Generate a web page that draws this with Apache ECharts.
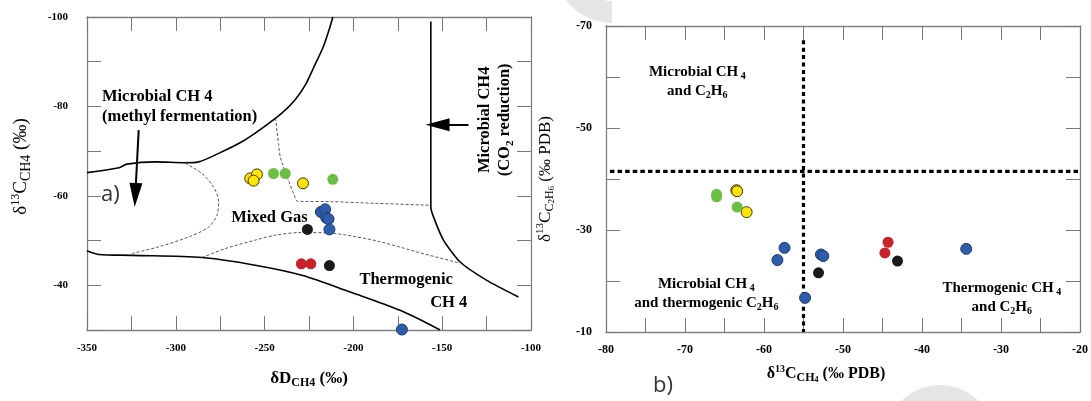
<!DOCTYPE html>
<html>
<head>
<meta charset="utf-8">
<script src="https://cdn.jsdelivr.net/npm/echarts@6/dist/echarts.min.js"></script>
<style>html,body{margin:0;padding:0;background:#fff}#c{width:1091px;height:401px}</style>
</head>
<body>
<div id="c"></div>
<script>
// ---------- Panel a) : δD_CH4 vs δ13C_CH4 ----------
const yellowA = [[-258.1,-63.9],[-254.3,-64.8],[-256.2,-63.4],[-228.4,-62.8]];
const greenA  = [[-245.0,-65.0],[-238.4,-65.0],[-211.6,-63.7]];
const redA    = [[-229.3,-44.8],[-224.0,-44.8]];
const blackA  = [[-225.9,-52.5],[-213.5,-44.4]];
const blueA   = [[-218.3,-56.4],[-215.9,-57.0],[-215.3,-55.1],[-214.0,-54.8],[-213.5,-52.5],[-172.7,-30.1]];

// boundary lines of the genetic diagram
const methylBoundary = [[-350,-65.2],[-332,-66.3],[-327.5,-67.1],[-311.6,-67.6],[-294.7,-67.4],[-287.2,-67.6],[-275.9,-69.5],[-262.8,-72.1],[-251.5,-75.1],[-240.3,-78.5],[-232.8,-81.5],[-226.8,-85.0],[-222.5,-88.6],[-216.9,-93.4],[-213.1,-97.9],[-211.6,-100]];
const thermoBoundary = [[-350,-47.7],[-343.5,-46.9],[-324.7,-46.7],[-285.3,-46.2],[-255.3,-44.5],[-228.5,-42.2],[-201.8,-38.5],[-173.7,-34.4],[-151.2,-30]];
const co2Boundary    = [[-156.4,-99],[-156.4,-57.5],[-154.9,-55.3],[-149.3,-50.1],[-139.9,-45.2],[-124.9,-41.1],[-107.1,-37.4]];
const dashLoop = [[-294.7,-67.3],[-285.3,-65.0],[-278.8,-62.0],[-275.9,-58.7],[-276.8,-55.7],[-281.6,-53.0],[-292.8,-50.8],[-309.7,-48.6],[-324.7,-47.1]];
const dashMid  = [[-243.8,-77.4],[-242.2,-71.7],[-241.2,-68.7],[-239.4,-66.5],[-236.6,-63.5],[-233.7,-60.5],[-231.5,-58.8],[-211.2,-58.7],[-192.4,-58.4],[-156.8,-57.9]];
const dashLow  = [[-285.3,-46.2],[-272.2,-48.2],[-255.3,-50.1],[-244.0,-51.2],[-230.0,-51.8],[-215.0,-51.7],[-205.0,-51.3],[-185.6,-49.8],[-160.0,-47.0],[-140.5,-45.0]];
const arrowsA  = [[[-320.9,-74.7],[-322.8,-60.2]], [[-135.2,-75.9],[-152.6,-75.9]]];

// text labels of panel a) : [x, y, text, align, rotate]
const notesA = [
  [-341.6,-79.9,'{t|Microbial CH 4}\n{t|(methyl fermentation)}','left',0],
  [-247.3,-55.2,'{t|Mixed Gas}','center',0],
  [-170.3,-41.3,'{t|Thermogenic}','center',0],
  [-146.3,-36.2,'{t|CH 4}','center',0],
  [-120.4,-77.0,'{t|Microbial CH4}\n{t|(CO}{s|2}{t| reduction)}','center',90]
];

// ---------- Panel b) : δ13C_CH4 vs δ13C_C2H6 ----------
const yellowB = [[-63.5,-37.8],[-63.4,-37.6],[-62.2,-33.5]];
const greenB  = [[-66.0,-37.0],[-66.0,-36.5],[-63.4,-34.5]];
const redB    = [[-44.3,-27.6],[-44.7,-25.5]];
const blackB  = [[-53.1,-21.6],[-43.1,-23.9]];
const blueB   = [[-57.4,-26.5],[-58.3,-24.1],[-52.8,-25.2],[-52.5,-24.9],[-54.8,-16.7],[-34.4,-26.3]];
const vDivider = [[-55,-67.2],[-55,-10]];
const hDivider = [[-79.5,-41.5],[-20,-41.5]];
const notesB = [
  [-68.44,-59.1,'{t|Microbial CH}{s| 4}\n{t|and C}{s|2}{t|H}{s|6}','center',0],
  [-67.3,-17.5,'{t|Microbial CH}{s| 4}\n{t|and thermogenic C}{s|2}{t|H}{s|6}','center',0],
  [-29.9,-16.8,'{t|Thermogenic CH}{s| 4}\n{t|and C}{s|2}{t|H}{s|6}','center',0]
];

// tick settings
const ticksA = {xmin:-350, xmax:-100, xstep:25, ymin:-100, ymax:-30, ystep:10};
const ticksB = {xmin:-80, xmax:-20, xstep:5, ymin:-70, ymax:-10, ystep:10};

const SERIF = 'Liberation Serif';
const noteRich = size => ({
  t: {fontFamily:SERIF, fontWeight:'bold', fontSize:size, color:'#000', lineHeight:size+4, textBorderWidth:0},
  s: {fontFamily:SERIF, fontWeight:'bold', fontSize:Math.round(size*0.68), color:'#000', lineHeight:9, verticalAlign:'bottom', textBorderWidth:0}
});
const nameRich = (bold, size) => ({
  r:  {fontFamily:SERIF, fontWeight:bold?'bold':'normal', fontSize:size, color:'#000', lineHeight:size+4},
  sp: {fontFamily:SERIF, fontWeight:bold?'bold':'normal', fontSize:Math.round(size*0.65), color:'#000', lineHeight:8, verticalAlign:'top'},
  sb: {fontFamily:SERIF, fontWeight:bold?'bold':'normal', fontSize:Math.round(size*0.72), color:'#000', lineHeight:9, verticalAlign:'bottom'},
  sb2:{fontFamily:SERIF, fontWeight:bold?'bold':'normal', fontSize:Math.round(size*0.5), color:'#000', lineHeight:5, verticalAlign:'bottom'}
});

function xAx(grid, t, pos, labelFmt, labelSize, margin, name) {
  const a = {
    gridIndex:grid, type:'value', min:t.xmin, max:t.xmax, interval:t.xstep, position:pos,
    axisLine:{show:true, onZero:false, lineStyle:{color:'#808080', width:1.3}},
    axisTick:{show:true, inside:true, length:14, lineStyle:{color:'#777', width:1}},
    axisLabel:{show:!!labelFmt, margin:margin, formatter:labelFmt, fontFamily:SERIF, fontWeight:'bold', fontSize:labelSize, color:'#000'},
    splitLine:{show:false}
  };
  if (name) Object.assign(a, name);
  return a;
}
function yAx(grid, t, pos, labelFmt, labelSize, margin, name) {
  const a = {
    gridIndex:grid, type:'value', inverse:true, min:t.ymin, max:t.ymax, interval:t.ystep, position:pos,
    axisLine:{show:true, onZero:false, lineStyle:{color:'#808080', width:1.3}},
    axisTick:{show:true, inside:true, length:14, lineStyle:{color:'#777', width:1}},
    axisLabel:{show:!!labelFmt, margin:margin, formatter:labelFmt, fontFamily:SERIF, fontWeight:'bold', fontSize:labelSize, color:'#000'},
    splitLine:{show:false}
  };
  if (name) Object.assign(a, name);
  return a;
}

function dots(data, color, border, xi) {
  return {type:'scatter', xAxisIndex:xi, yAxisIndex:xi, data:data, symbolSize:11, z:5,
    itemStyle:{color:color, borderColor:border||color, borderWidth:border?1:0, opacity:1}, silent:true};
}
function curve(data, xi, dashed, smooth) {
  return {type:'line', xAxisIndex:xi, yAxisIndex:xi, data:data, symbol:'none', smooth:smooth, z:3, silent:true,
    lineStyle: dashed ? {color:'#444', width:0.9, type:[3,2]} : {color:'#000', width:1.6}};
}
function notes(arr, xi, size) {
  return {type:'scatter', xAxisIndex:xi, yAxisIndex:xi, symbolSize:0.1, z:6, silent:true,
    itemStyle:{color:'rgba(255,255,255,0)'},
    label:{show:true, position:'inside', color:'#000', opacity:1, textBorderWidth:0, textBorderColor:'transparent',
      fontFamily:SERIF, fontWeight:'bold', fontSize:size, rich:noteRich(size)},
    data: arr.map(n => ({value:[n[0], n[1]], label:{formatter:() => n[2], align:n[3], rotate:n[4]}}))};
}

const chart = echarts.init(document.getElementById('c'), null, {renderer:'canvas'});
const methylSeries = curve(methylBoundary, 0, false, 0.3);
methylSeries.markLine = {
  silent:true, animation:false, symbol:['none','triangle'], symbolSize:[13,24],
  label:{show:false}, lineStyle:{color:'#000', width:2, type:'solid'},
  data: arrowsA.map(a => [{coord:a[0]}, {coord:a[1]}])
};

chart.setOption({
  animation:false,
  backgroundColor:'#fff',
  grid:[
    {left:87, top:17, width:444, height:313},
    {left:606, top:26, width:476, height:306}
  ],
  xAxis:[
    xAx(0, ticksA, 'bottom', v => (v % 50 === 0 ? String(v) : ''), 11, 13,
      {name:'{r|δD}{sb|CH4}{r| (‰)}', nameLocation:'middle', nameGap:38, nameTextStyle:{rich:nameRich(true,17)}}),
    xAx(0, ticksA, 'top', null, 11, 8),
    xAx(1, ticksB, 'bottom', v => (v % 10 === 0 ? String(v) : ''), 12, 12,
      {name:'{r|δ}{sp|13}{r|C}{sb|CH}{sb2|4}{r| (‰ PDB)}', nameLocation:'middle', nameGap:32, nameTextStyle:{rich:nameRich(true,16), padding:[0,34,0,0]}}),
    xAx(1, ticksB, 'top', null, 12, 8)
  ],
  yAxis:[
    yAx(0, ticksA, 'left', v => (v % 20 === 0 ? String(v) : ''), 11, 19,
      {name:'{r|δ}{sp|13}{r|C}{sb|CH4}{r| (‰)}', nameLocation:'middle', nameGap:54, nameTextStyle:{rich:nameRich(false,19), padding:[0,0,0,14]}}),
    yAx(0, ticksA, 'right', null, 11, 8),
    yAx(1, ticksB, 'left', v => (v % 20 !== 0 ? String(v) : ''), 12, 14,
      {name:'{r|δ}{sp|13}{r|C}{sb|C}{sb2|2}{sb|H}{sb2|6}{r| (‰ PDB)}', nameLocation:'middle', nameGap:50, nameTextStyle:{rich:nameRich(false,17)}}),
    yAx(1, ticksB, 'right', null, 12, 8)
  ],
  series:[
    methylSeries,
    curve(thermoBoundary, 0, false, 0.3),
    curve(co2Boundary, 0, false, 0.2),
    curve(dashLoop, 0, true, 0.3),
    curve(dashMid, 0, true, 0.2),
    curve(dashLow, 0, true, 0.3),
    dots(yellowA, '#FFE500', '#3a3a1a', 0),
    dots(greenA, '#6DBE46', null, 0),
    dots(redA, '#C8222B', null, 0),
    dots(blackA, '#1a1a1a', null, 0),
    dots(blueA, '#2F5DAA', '#1B3A73', 0),
    notes(notesA, 0, 16.5),
    {type:'line', xAxisIndex:2, yAxisIndex:2, data:vDivider, symbol:'none', silent:true, z:2,
      lineStyle:{color:'#000', width:3.2, type:[4,3.4]}},
    {type:'line', xAxisIndex:2, yAxisIndex:2, data:hDivider, symbol:'none', silent:true, z:2,
      lineStyle:{color:'#000', width:3.4, type:[4.5,3.1]}},
    dots(yellowB, '#FFE500', '#3a3a1a', 2),
    dots(greenB, '#6DBE46', null, 2),
    dots(redB, '#C8222B', null, 2),
    dots(blackB, '#1a1a1a', null, 2),
    dots(blueB, '#2F5DAA', '#1B3A73', 2),
    notes(notesB, 2, 15)
  ],
  graphic:[
    {type:'sector', z:-1, silent:true, shape:{cx:612, cy:-35, r:58, r0:36, startAngle:Math.PI*0.5, endAngle:Math.PI, clockwise:true}, style:{fill:'#e6e6e6'}},
    {type:'sector', z:-1, silent:true, shape:{cx:940, cy:440, r:55, r0:32, startAngle:Math.PI, endAngle:Math.PI*2, clockwise:true}, style:{fill:'#e6e6e6'}},
    {type:'text', x:101, y:195, z:10, style:{text:'a)', font:'22px "Open Sans"', fill:'#333', align:'left', verticalAlign:'middle'}},
    {type:'text', x:653, y:386, z:10, style:{text:'b)', font:'22px "Open Sans"', fill:'#333', align:'left', verticalAlign:'middle'}}
  ]
});
</script>
</body>
</html>
